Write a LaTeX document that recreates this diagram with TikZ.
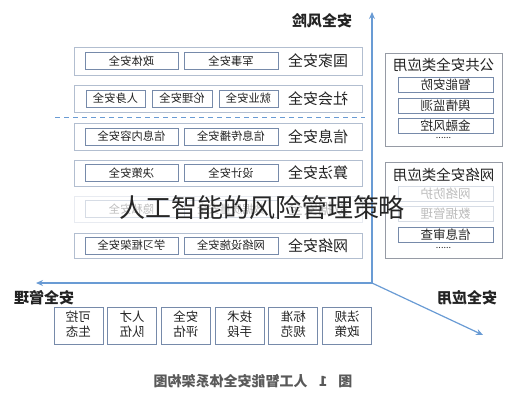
\documentclass[tikz,border=0pt]{standalone}
\usepackage{fontspec}
\usepackage{graphicx}
\setmainfont{Noto Sans CJK SC}
\usetikzlibrary{arrows.meta}

\definecolor{axisblue}{RGB}{105,155,212}
\definecolor{rowline}{RGB}{178,190,208}
\definecolor{boxline}{RGB}{118,138,170}
\definecolor{panelline}{RGB}{150,155,165}
\definecolor{txt}{RGB}{35,35,35}

\newcommand\flip[1]{\reflectbox{#1}}
\newcommand\fsz[1]{\fontsize{#1}{#1}\selectfont}

\tikzset{
  rowbox/.style={draw=rowline, line width=0.9pt},
  panelbox/.style={draw=panelline, line width=0.9pt},
  itembox/.style={draw=boxline, line width=0.7pt, inner sep=0pt,
    minimum height=17, text=txt, font=\fsz{11.3}},
  rowlabel/.style={text=txt, font=\fsz{15}},
  paneltitle/.style={text=txt, font=\fsz{14.5}},
  panelitem/.style={draw=boxline, line width=0.7pt, inner sep=0pt,
    minimum width=95, minimum height=15, text=txt, font=\fsz{12.5}},
  basebox/.style={draw=boxline, line width=0.7pt, inner sep=0pt,
    minimum width=49, minimum height=37, text=txt,
    font=\fontsize{12.5}{14}\selectfont},
  axislabel/.style={text=txt, font=\fsz{15}\bfseries},
  axis/.style={axisblue, line width=1.2pt, -{Stealth[length=7pt,width=6pt]}},
  faded/.style={opacity=0.3},
}

\begin{document}
\begin{tikzpicture}[x=1pt, y=-1pt]
    \useasboundingbox (0,0) rectangle (520,400);

    % 坐标轴
    \coordinate (o) at (372,283);
    \coordinate (top) at (372,12);
    \coordinate (left) at (36,283);
    \coordinate (diag) at (483,335);
    \draw[axis] (o) -- (top);
    \draw[axis] (o) -- (left);
    \draw[axis] (o) -- (diag);
    \node[axislabel] (riskL) at (322,21) {\flip{安全风险}};
    \node[axislabel] (mgmtL) at (44,298) {\flip{安全管理}};
    \node[axislabel] (appL) at (467,298) {\flip{安全应用}};

    % 国家安全
    \draw[rowbox] (74,47) rectangle (362,75);
    \node[rowlabel] (natL) at (318,61) {\flip{国家安全}};
    \node[itembox, minimum width=93] (pol) at (131.5,61) {\flip{政体安全}};
    \node[itembox, minimum width=94] (mil) at (231,61) {\flip{军事安全}};

    % 社会安全
    \draw[rowbox] (74,85) rectangle (362,112);
    \node[rowlabel] (socL) at (318,98.5) {\flip{社会安全}};
    \node[itembox, minimum width=59] (pers) at (115.5,98.5) {\flip{人身安全}};
    \node[itembox, minimum width=60] (eth) at (182,98.5) {\flip{伦理安全}};
    \node[itembox, minimum width=59] (job) at (248.5,98.5) {\flip{就业安全}};

    % 分隔虚线
    \coordinate (dl) at (55,117);
    \coordinate (dr) at (365,117);
    \draw[axisblue, line width=1pt, dash pattern=on 5pt off 4pt] (dl) -- (dr);

    % 信息安全
    \draw[rowbox] (74,123) rectangle (362,150);
    \node[rowlabel] (infoL) at (318,136.5) {\flip{信息安全}};
    \node[itembox, minimum width=93] (cont) at (131.5,136.5) {\flip{信息内容安全}};
    \node[itembox, minimum width=94] (spread) at (231,136.5) {\flip{信息传播安全}};

    % 算法安全
    \draw[rowbox] (74,160) rectangle (362,186);
    \node[rowlabel] (algL) at (318,173) {\flip{算法安全}};
    \node[itembox, minimum width=93] (dec) at (131.5,173) {\flip{决策安全}};
    \node[itembox, minimum width=94] (des) at (231,173) {\flip{设计安全}};

    % 数据安全
    \begin{scope}[faded]
    \draw[rowbox] (74,196) rectangle (362,222);
    \node[rowlabel] (dataL) at (318,209) {\flip{数据安全}};
    \node[itembox, minimum width=93] (priv) at (131.5,209) {\flip{隐私安全}};
    \node[itembox, minimum width=94] (dq) at (231,209) {\flip{数据质量安全}};
    \end{scope}

    % 网络安全
    \draw[rowbox] (74,233) rectangle (362,258);
    \node[rowlabel] (netL) at (318,245.5) {\flip{网络安全}};
    \node[itembox, minimum width=93] (frm) at (131.5,245.5) {\flip{学习框架安全}};
    \node[itembox, minimum width=94] (fac) at (231,245.5) {\flip{网络设施安全}};

    % 公共安全类应用
    \draw[panelbox] (385,53) rectangle (502,146);
    \node[paneltitle] (pubH) at (443.5,65) {\flip{公共安全类应用}};
    \node[panelitem] (guard) at (445.5,84.5) {\flip{智能安防}};
    \node[panelitem] (opin) at (445.5,105.5) {\flip{舆情监测}};
    \node[panelitem] (fin) at (445.5,125.5) {\flip{金融风控}};
    \node[text=txt, font=\fsz{9}] (pubD) at (443.5,138) {......};

    % 网络安全类应用
    \draw[panelbox] (385,162) rectangle (502,258);
    \node[paneltitle] (netH) at (443.5,175) {\flip{网络安全类应用}};
    \node[panelitem, faded] (prot) at (445.5,194) {\flip{网络防护}};
    \node[panelitem, faded] (dm) at (445.5,214) {\flip{数据管理}};
    \node[panelitem] (rev) at (445.5,235) {\flip{信息审查}};
    \node[text=txt, font=\fsz{9}] (netD) at (443.5,248) {......};

    % 安全管理
    \foreach \a/\b [count=\i from 0] in {可控/生态, 人才/队伍, 安全/评估,
        技术/手段, 标准/规范, 法规/政策}
        \node[basebox] (base\i) at (78.5+53.7*\i,325.5)
            {\flip{\begin{tabular}{@{}c@{}}\a\\\b\end{tabular}}};

    % 图题
    \node[text=black!65, font=\fsz{14}\bfseries] (cap) at (253,381)
        {\flip{图\hspace{0.8em}1\hspace{0.8em}人工智能安全体系架构图}};

    % 标题
    \node[text=black!85, font=\fsz{26}] (title) at (262,208)
        {人工智能的风险管理策略};
\end{tikzpicture}
\end{document}
